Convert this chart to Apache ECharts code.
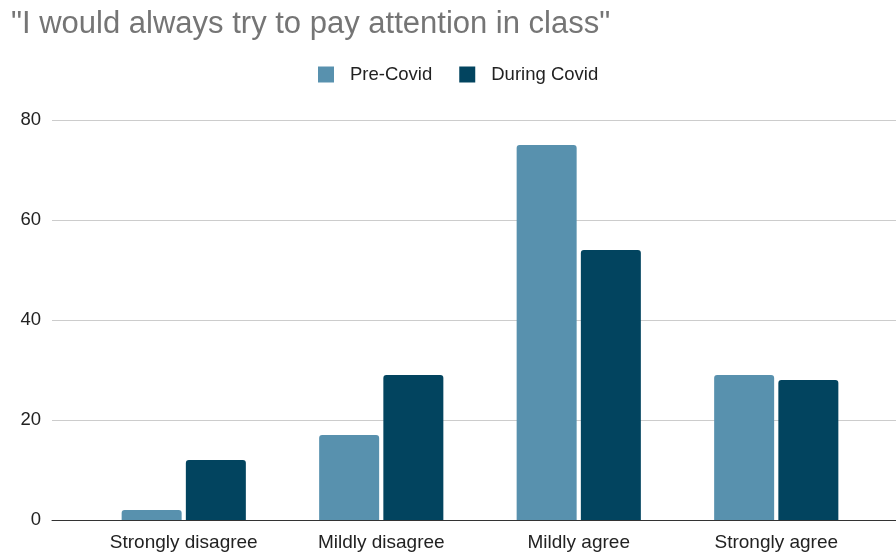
<!DOCTYPE html>
<html>
<head>
<meta charset="utf-8">
<script src="https://cdn.jsdelivr.net/npm/echarts@6/dist/echarts.min.js"></script>
<style>
  html, body { margin: 0; padding: 0; background: #fff; }
  #chart { width: 896px; height: 553px; }
</style>
</head>
<body>
<div id="chart"></div>
<script>
// Survey responses: "I would always try to pay attention in class"
const categories = ['Strongly disagree', 'Mildly disagree', 'Mildly agree', 'Strongly agree'];
const preCovid = [2, 17, 75, 29];
const duringCovid = [12, 29, 54, 28];
const yTicks = { min: 0, max: 80, interval: 20 };

const FONT = '"Liberation Sans", Arial, sans-serif';
const chart = echarts.init(document.getElementById('chart'), null, { renderer: 'canvas' });

chart.setOption({
  backgroundColor: '#ffffff',
  animation: false,
  title: {
    text: '"I would always try to pay attention in class"',
    left: 6,
    top: 4,
    textStyle: { fontFamily: FONT, fontSize: 31, fontWeight: 'normal', color: '#757575' }
  },
  legend: {
    top: 60,
    left: 313,
    itemWidth: 16,
    itemHeight: 16,
    itemGap: 27,
    icon: 'rect',
    textStyle: { fontFamily: FONT, fontSize: 18.5, color: '#222222', padding: [0, 0, 0, 11] },
    data: ['Pre-Covid', 'During Covid']
  },
  grid: [
    // full-width grid carrying the value gridlines and tick labels
    { left: 52, right: 0, top: 120, bottom: 33, containLabel: false },
    // narrower grid holding the bars
    { left: 85, right: 21, top: 120, bottom: 33, containLabel: false }
  ],
  xAxis: [
    {
      gridIndex: 0, type: 'category', data: categories,
      show: true,
      axisLine: { show: true, lineStyle: { color: '#333333', width: 1 } },
      axisTick: { show: false },
      axisLabel: { show: false }
    },
    {
      gridIndex: 1, type: 'category', data: categories,
      axisLine: { show: false },
      axisTick: { show: false },
      axisLabel: { fontFamily: FONT, fontSize: 19, color: '#222222', margin: 13 }
    }
  ],
  yAxis: [
    {
      gridIndex: 0, type: 'value', min: yTicks.min, max: yTicks.max, interval: yTicks.interval,
      axisLine: { show: false },
      axisTick: { show: false },
      axisLabel: { fontFamily: FONT, fontSize: 18.5, color: '#222222', margin: 11 },
      splitLine: { show: true, lineStyle: { color: '#cccccc', width: 1 } }
    },
    {
      gridIndex: 1, type: 'value', min: yTicks.min, max: yTicks.max, interval: yTicks.interval,
      show: false,
      splitLine: { show: false }
    }
  ],
  series: [
    {
      name: 'Pre-Covid', type: 'bar', xAxisIndex: 1, yAxisIndex: 1,
      data: preCovid, barWidth: 60, barGap: '7%',
      itemStyle: { color: '#5891ae', borderRadius: [3, 3, 0, 0] }
    },
    {
      name: 'During Covid', type: 'bar', xAxisIndex: 1, yAxisIndex: 1,
      data: duringCovid, barWidth: 60, barGap: '7%',
      itemStyle: { color: '#02445f', borderRadius: [3, 3, 0, 0] }
    }
  ]
});
</script>
</body>
</html>
